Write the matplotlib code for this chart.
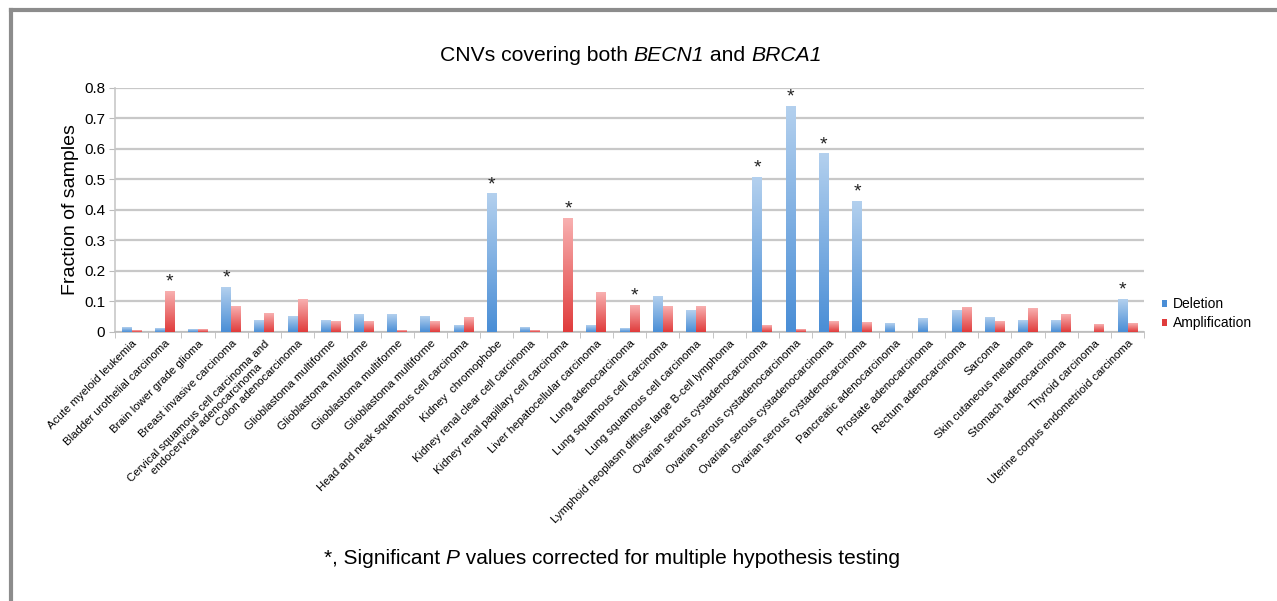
import numpy as np
import matplotlib
matplotlib.use("Agg")
import matplotlib.pyplot as plt
from matplotlib.colors import LinearSegmentedColormap
from matplotlib.lines import Line2D

plt.rcParams['font.family'] = ['Liberation Sans', 'DejaVu Sans']

# === Data ===
cancers = [
    "Acute myeloid leukemia",
    "Bladder urothelial carcinoma",
    "Brain lower grade glioma",
    "Breast invasive carcinoma",
    "Cervical squamous cell carcinoma and\nendocervical adenocarcinoma",
    "Colon adenocarcinoma",
    "Glioblastoma multiforme",
    "Glioblastoma multiforme",
    "Glioblastoma multiforme",
    "Glioblastoma multiforme",
    "Head and neak squamous cell carcinoma",
    "Kidney  chromophobe",
    "Kidney renal clear cell carcinoma",
    "Kidney renal papillary cell carcinoma",
    "Liver hepatocellular carcinoma",
    "Lung adenocarcinoma",
    "Lung squamous cell carcinoma",
    "Lung squamous cell carcinoma",
    "Lymphoid neoplasm diffuse large B-cell lymphoma",
    "Ovarian serous cystadenocarcinoma",
    "Ovarian serous cystadenocarcinoma",
    "Ovarian serous cystadenocarcinoma",
    "Ovarian serous cystadenocarcinoma",
    "Pancreatic adenocarcinoma",
    "Prostate adenocarcinoma",
    "Rectum adenocarcinoma",
    "Sarcoma",
    "Skin cutaneous melanoma",
    "Stomach adenocarcinoma",
    "Thyroid carcinoma",
    "Uterine corpus endometrioid carcinoma",
]

deletion = [0.016, 0.013, 0.007, 0.146, 0.037, 0.051, 0.038, 0.057, 0.057, 0.050,
            0.021, 0.453, 0.014, 0.0, 0.020, 0.010, 0.118, 0.069, 0.0, 0.508,
            0.740, 0.584, 0.428, 0.029, 0.044, 0.070, 0.046, 0.039, 0.038, 0.0,
            0.107]
amplification = [0.005, 0.134, 0.009, 0.084, 0.062, 0.107, 0.035, 0.036, 0.005, 0.036,
                 0.049, 0.0, 0.005, 0.373, 0.131, 0.088, 0.084, 0.085, 0.0, 0.020,
                 0.009, 0.035, 0.031, 0.0, 0.0, 0.082, 0.034, 0.078, 0.057, 0.024,
                 0.028]

# significant results (category index)
sig_del = [3, 11, 19, 20, 21, 22, 30]
sig_amp = [1, 13, 15]

title_parts = [("CNVs covering both ", 'normal'), ("BECN1", 'italic'),
               (" and ", 'normal'), ("BRCA1", 'italic')]
note_parts = [("*, Significant ", 'normal'), ("P", 'italic'),
              (" values corrected for multiple hypothesis testing", 'normal')]

# === Figure ===
fig = plt.figure(figsize=(12.77, 6.01), dpi=100)
ax = fig.add_axes([0.090, 0.4484, 0.806, 0.406])

x = np.arange(len(cancers))
w = 0.3
blue_cmap = LinearSegmentedColormap.from_list("b", ["#4a8ed6", "#b3d0ee"])
red_cmap = LinearSegmentedColormap.from_list("r", ["#e03c3c", "#f8b0b0"])
grad = np.linspace(0, 1, 100).reshape(-1, 1)

def gradient_bars(xs, vals, cmap, base_color, label):
    bars = ax.bar(xs, vals, w, color=base_color, label=label, zorder=2)
    for b in bars:
        h = b.get_height()
        if h <= 0:
            continue
        im = ax.imshow(grad, cmap=cmap, origin='lower', aspect='auto',
                       extent=[b.get_x(), b.get_x() + b.get_width(), 0, h], zorder=3)
        im.set_clip_path(b)
    return bars

gradient_bars(x - w / 2, deletion, blue_cmap, "#4a8ed6", "Deletion")
gradient_bars(x + w / 2, amplification, red_cmap, "#e03c3c", "Amplification")

for i in sig_del:
    ax.text(x[i] - w / 2, deletion[i] + 0.014, "*", ha='center', va='baseline',
            fontsize=14, color='#222222', zorder=4)
for i in sig_amp:
    ax.text(x[i] + w / 2, amplification[i] + 0.014, "*", ha='center', va='baseline',
            fontsize=14, color='#222222', zorder=4)

ax.set_xlim(-0.5, len(cancers) - 0.5)
ax.set_ylim(0, 0.8)
ax.set_yticks(np.arange(0, 0.81, 0.1))
ax.set_yticklabels(["0"] + [f"{v:.1f}" for v in np.arange(0.1, 0.81, 0.1)], fontsize=11)
ax.yaxis.grid(True, color='#c8c8c8', linewidth=1.6, zorder=0)
ax.set_axisbelow(True)

ax.set_xticks(x)
ax.set_xticklabels(cancers, rotation=45, ha='right', va='top',
                   rotation_mode='anchor', fontsize=8.2, multialignment='center')
ax.tick_params(axis='x', length=0, pad=5)
ax.set_xticks(np.arange(-0.5, len(cancers), 1), minor=True)
ax.tick_params(axis='x', which='minor', length=4, color='#bbbbbb')
ax.tick_params(axis='y', length=4, color='#bbbbbb', pad=3)

for s in ['top', 'right']:
    ax.spines[s].set_visible(False)
ax.spines['left'].set_color('#c8c8c8')
ax.spines['bottom'].set_color('#bbbbbb')
ax.spines['left'].set_linewidth(1.2)
ax.spines['bottom'].set_linewidth(1.2)

ax.set_ylabel("Fraction of samples", fontsize=14, labelpad=4)

leg = ax.legend(loc='lower left', bbox_to_anchor=(1.005, -0.045), frameon=False,
                fontsize=10, handlelength=0.4, handleheight=0.4, handletextpad=0.4,
                labelspacing=0.35)

# mixed normal / italic text lines, centred on cx
renderer = fig.canvas.get_renderer()

def rich_text(parts, cx, cy, size):
    texts = [fig.text(0, cy, s, fontstyle=st, fontsize=size, va='center', ha='left')
             for s, st in parts]
    widths = [t.get_window_extent(renderer).width for t in texts]
    total = sum(widths)
    left = cx * fig.bbox.width - total / 2
    for t, wd in zip(texts, widths):
        t.set_x(left / fig.bbox.width)
        left += wd

rich_text(title_parts, 0.494, 0.908, 15.2)
rich_text(note_parts, 0.479, 0.071, 15)

# gray frame around the figure
fig.add_artist(Line2D([11 / 1277, 1.0], [1 - 10 / 601, 1 - 10 / 601],
                      color='#8c8c8c', linewidth=3, transform=fig.transFigure))
fig.add_artist(Line2D([11 / 1277, 11 / 1277], [0.0, 1 - 10 / 601],
                      color='#8c8c8c', linewidth=3, transform=fig.transFigure))

fig.savefig("out.png", dpi=100)
